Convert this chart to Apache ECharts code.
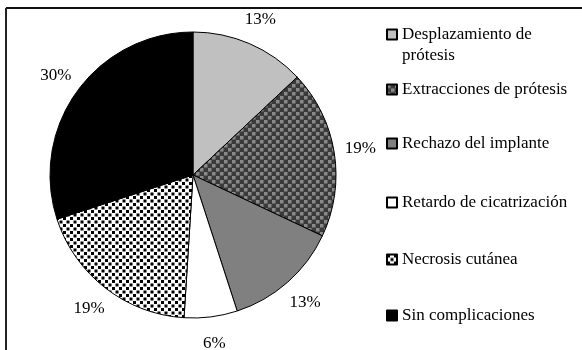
<!DOCTYPE html>
<html>
<head>
<meta charset="utf-8">
<script src="https://cdn.jsdelivr.net/npm/echarts@6/dist/echarts.min.js"></script>
<style>
  html, body { margin: 0; padding: 0; background: #fff; }
  #chart { width: 582px; height: 350px; }
</style>
</head>
<body>
<div id="chart"></div>
<script>
// complicaciones - tarta con tramas en gris

const categories = ['Desplazamiento de prótesis', 'Extracciones de prótesis', 'Rechazo del implante',
  'Retardo de cicatrización', 'Necrosis cutánea', 'Sin complicaciones'];
const percents = [13, 19, 13, 6, 19, 30];

const serif = 'Liberation Serif';

// trama de cuadritos escalonados
function dots(bg, fg, tile, sq) {
  const c = document.createElement('canvas');
  c.width = tile;
  c.height = tile;
  const ctx = c.getContext('2d');
  ctx.fillStyle = bg;
  ctx.fillRect(0, 0, tile, tile);
  ctx.fillStyle = fg;
  ctx.fillRect(0, 0, sq, sq);
  ctx.fillRect(tile / 2, tile / 2, sq, sq);
  return c;
}

const fills = [
  '#c0c0c0',
  { image: dots('#3a3a3a', '#8a8a8a', 8, 3.5), repeat: 'repeat' },
  '#808080',
  '#ffffff',
  { image: dots('#ffffff', '#000000', 7, 3), repeat: 'repeat' },
  '#000000'
];

const iconCenters = [34, 88, 142, 201, 258, 314];

const legends = categories.map(function (name, i) {
  const first = i === 0;
  return {
    orient: 'vertical',
    left: 386,
    top: first ? iconCenters[i] - 31 : iconCenters[i] - 9,
    itemWidth: 10,
    itemHeight: 10,
    icon: 'rect',
    padding: 0,
    selectedMode: false,
    // linea vacia arriba para que el icono quede a la altura de la primera linea
    formatter: first ? '\nDesplazamiento de\nprótesis' : '{name}',
    textStyle: {
      fontFamily: serif,
      fontSize: 17,
      lineHeight: 21,
      color: '#000'
    },
    data: [name]
  };
});

const chart = echarts.init(document.getElementById('chart'));
chart.setOption({
  backgroundColor: '#fff',
  animation: false,
  legend: legends,
  graphic: [
    { type: 'line', shape: { x1: 6, y1: 8, x2: 582, y2: 8 }, style: { stroke: '#111', lineWidth: 2 } },
    { type: 'line', shape: { x1: 6, y1: 8, x2: 6, y2: 350 }, style: { stroke: '#222', lineWidth: 2 } }
  ],
  series: [{
    type: 'pie',
    center: [193, 175],
    radius: 143,
    startAngle: 90,
    clockwise: true,
    label: { show: false },
    emphasis: { disabled: true },
    itemStyle: { borderColor: '#000', borderWidth: 1 },
    data: categories.map(function (name, i) {
      return { name: name, value: percents[i], itemStyle: { color: fills[i] } };
    })
  }, {
    // anillo invisible solo para colocar los porcentajes fuera de la tarta
    type: 'pie',
    center: [193, 175],
    radius: [143, 190],
    startAngle: 90,
    clockwise: true,
    silent: true,
    emphasis: { disabled: true },
    itemStyle: { color: 'rgba(0,0,0,0)', borderWidth: 0 },
    label: {
      show: true,
      position: 'inside',
      fontFamily: serif,
      fontSize: 17,
      color: '#000',
      formatter: function (p) { return p.value + '%'; }
    },
    labelLine: { show: false },
    data: categories.map(function (name, i) {
      return { name: name, value: percents[i] };
    })
  }]
});
</script>
</body>
</html>
